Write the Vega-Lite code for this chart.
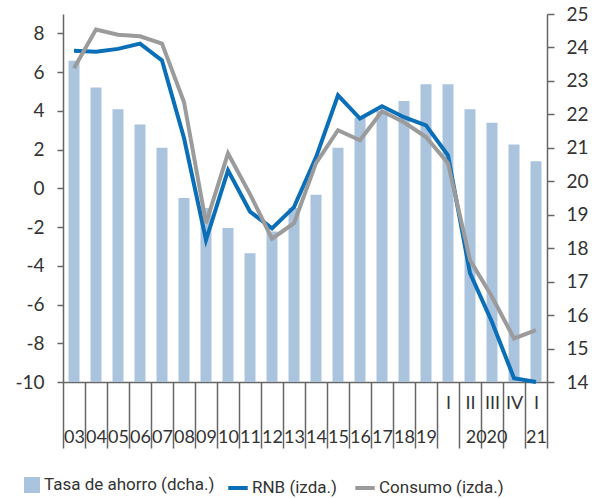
{
  "$schema": "https://vega.github.io/schema/vega-lite/v6.json",
  "width": 484,
  "height": 368,
  "autosize": "none",
  "padding": {"left": 63, "top": 14, "right": 61, "bottom": 116},
  "background": "white",
  "config": {
    "view": {"stroke": null},
    "axis": {
      "grid": false,
      "labelFont": "Lato",
      "labelFontSize": 19,
      "labelColor": "#333333",
      "domainColor": "#666666",
      "tickColor": "#666666",
      "domainWidth": 1.5,
      "tickWidth": 1.5
    }
  },
  "data": {
    "values": [
      {"cat": "03", "ahorro": 23.6, "rnb": 7.1, "consumo": 6.2},
      {"cat": "04", "ahorro": 22.8, "rnb": 7.05, "consumo": 8.2},
      {"cat": "05", "ahorro": 22.15, "rnb": 7.2, "consumo": 7.93},
      {"cat": "06", "ahorro": 21.7, "rnb": 7.47, "consumo": 7.85},
      {"cat": "07", "ahorro": 21.0, "rnb": 6.6, "consumo": 7.47},
      {"cat": "08", "ahorro": 19.5, "rnb": 2.6, "consumo": 4.46},
      {"cat": "09", "ahorro": 19.2, "rnb": -2.67, "consumo": -1.8},
      {"cat": "10", "ahorro": 18.6, "rnb": 0.93, "consumo": 1.8},
      {"cat": "11", "ahorro": 17.85, "rnb": -1.2, "consumo": -0.3},
      {"cat": "12", "ahorro": 18.5, "rnb": -2.07, "consumo": -2.6},
      {"cat": "13", "ahorro": 19.2, "rnb": -0.97, "consumo": -1.8},
      {"cat": "14", "ahorro": 19.6, "rnb": 1.6, "consumo": 1.3},
      {"cat": "15", "ahorro": 21.0, "rnb": 4.8, "consumo": 3.0},
      {"cat": "16", "ahorro": 21.9, "rnb": 3.6, "consumo": 2.48},
      {"cat": "17", "ahorro": 22.1, "rnb": 4.24, "consumo": 3.98},
      {"cat": "18", "ahorro": 22.4, "rnb": 3.67, "consumo": 3.41},
      {"cat": "19", "ahorro": 22.9, "rnb": 3.25, "consumo": 2.65},
      {"cat": "2020 I", "ahorro": 22.9, "rnb": 1.7, "consumo": 1.3},
      {"cat": "2020 II", "ahorro": 22.15, "rnb": -4.38, "consumo": -3.7},
      {"cat": "2020 III", "ahorro": 21.75, "rnb": -6.9, "consumo": -5.6},
      {"cat": "2020 IV", "ahorro": 21.1, "rnb": -9.8, "consumo": -7.75},
      {"cat": "2021 I", "ahorro": 20.6, "rnb": -10.0, "consumo": -7.32}
    ]
  },
  "layer": [
    {
      "mark": {"type": "bar", "width": 11},
      "encoding": {
        "x": {
          "field": "cat",
          "type": "nominal",
          "sort": null,
          "scale": {"paddingInner": 0, "paddingOuter": 0},
          "axis": {
            "orient": "bottom",
            "title": null,
            "tickBand": "extent",
            "tickSize": 66,
            "labelAngle": 0,
            "labelFontSize": 18,
            "labelBaseline": "alphabetic",
            "labelPadding": -40,
            "labelLineHeight": 34,
            "labelOverlap": false,
            "labelExpr": "datum.value == '2020 I' ? ['I', ''] : (datum.value == '2020 II' ? ['II', '\u200b\u00a0\u00a0\u00a0\u00a0\u00a0\u00a0\u00a02020'] : (datum.value == '2020 III' ? ['III', ''] : (datum.value == '2020 IV' ? ['IV', ''] : (datum.value == '2021 I' ? ['I', '21'] : ['', datum.value]))))"
          }
        },
        "y": {
          "field": "ahorro",
          "type": "quantitative",
          "scale": {"domain": [14, 25], "zero": false, "nice": false},
          "axis": {"orient": "right", "title": null, "values": [14,15,16,17,18,19,20,21,22,23,24,25], "tickSize": 7, "labelPadding": 12}
        },
        "y2": {"datum": 14},
        "fill": {
          "datum": "Tasa de ahorro (dcha.)",
          "scale": {"domain": ["Tasa de ahorro (dcha.)"], "range": ["#abc4de"]},
          "legend": {
            "orient": "none",
            "legendX": -40,
            "legendY": 462,
            "title": null,
            "symbolType": "square",
            "symbolSize": 256,
            "labelFont": "Roboto",
            "labelFontSize": 17,
            "labelColor": "#333333",
            "labelOffset": 3,
            "labelLimit": 400
          }
        }
      }
    },
    {
      "layer": [
        {
          "mark": {"type": "line", "strokeWidth": 4},
          "encoding": {
            "x": {"field": "cat", "type": "nominal", "sort": null},
            "y": {
              "field": "rnb",
              "type": "quantitative",
              "scale": {"domain": [-10, 9], "nice": false, "zero": false},
              "axis": {"orient": "left", "title": null, "values": [-10,-8,-6,-4,-2,0,2,4,6,8], "tickSize": 6, "labelPadding": 13, "labelExpr": "'' + datum.value"}
            },
            "stroke": {
              "datum": "RNB (izda.)",
              "scale": {"domain": ["RNB (izda.)", "Consumo (izda.)"], "range": ["#0b6fb8", "#9b9b9b"]},
              "legend": {
                "orient": "none",
                "legendX": 163,
                "legendY": 462,
                "direction": "horizontal",
                "title": null,
                "symbolType": "stroke",
                "symbolSize": 380,
                "symbolStrokeWidth": 4,
                "labelFont": "Roboto",
                "labelFontSize": 17,
                "labelColor": "#333333",
                "labelOffset": 2,
                "columnPadding": 10,
                "labelLimit": 400
              }
            }
          }
        },
        {
          "mark": {"type": "line", "strokeWidth": 4},
          "encoding": {
            "x": {"field": "cat", "type": "nominal", "sort": null},
            "y": {"field": "consumo", "type": "quantitative"},
            "stroke": {"datum": "Consumo (izda.)"}
          }
        }
      ]
    }
  ],
  "resolve": {"scale": {"y": "independent"}}
}
